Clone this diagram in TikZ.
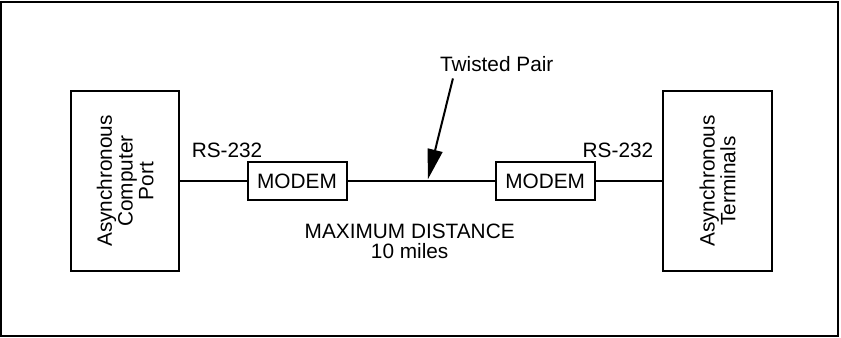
\documentclass[tikz,border=0pt]{standalone}
\usepackage{fontspec}
\setmainfont{Liberation Sans}
\usetikzlibrary{arrows.meta}

\begin{document}
\begin{tikzpicture}[
            every node/.style={font=\fontsize{10.4}{10.4}\selectfont},
            unit/.style={draw, line width=1pt, minimum width=1.9cm, minimum height=3.16cm},
            modem/.style={draw, line width=1pt, minimum width=1.74cm, minimum height=0.67cm, inner sep=0pt},
            wire/.style={line width=1pt},
            pointer/.style={line width=1pt, -{Triangle[length=15pt,width=7.5pt]}}
        ]
            \useasboundingbox (0,0) rectangle (14.78,5.94);
            \draw[line width=1pt] (0.02,0.03) rectangle (14.73,5.91);

            \node[unit] (port) at (2.20,2.76) {};
            \node[rotate=90, align=center] (porttext) at (port) {Asynchronous\\Computer\\Port};
            \node[unit] (term) at (12.61,2.76) {};
            \node[rotate=90, align=center] (termtext) at (term) {Asynchronous\\Terminals};

            \node[modem] (modemA) at (5.22,2.76) {MODEM};
            \node[modem] (modemB) at (9.58,2.76) {MODEM};

            \draw[wire] (port) -- (modemA);
            \draw[wire] (modemA) -- (modemB);
            \draw[wire] (modemB) -- (term);

            \node (rsA) at (3.99,3.30) {RS-232};
            \node (rsB) at (10.86,3.30) {RS-232};
            \node[align=center] (distance) at (7.20,1.70) {MAXIMUM DISTANCE\\10 miles};

            \node (twisted) at (8.73,4.82) {Twisted Pair};
            \coordinate (tip) at (7.52,2.79);
            \draw[pointer] ([xshift=-0.77cm]twisted.south) -- (tip);
        \end{tikzpicture}
\end{document}
